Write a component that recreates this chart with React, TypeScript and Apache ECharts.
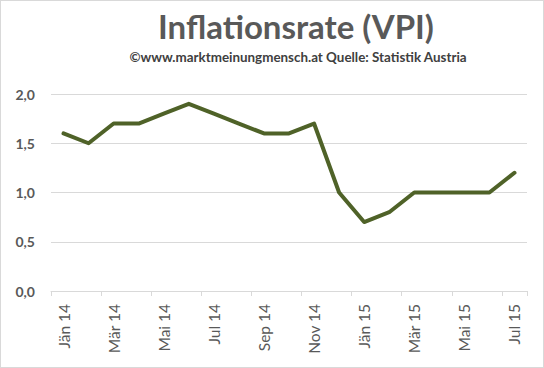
import React, { useEffect, useRef } from "react";
import * as echarts from "echarts";

const months = [
  "Jän 14", "Feb 14", "Mär 14", "Apr 14", "Mai 14", "Jun 14", "Jul 14", "Aug 14", "Sep 14", "Okt 14", "Nov 14", "Dez 14",
  "Jän 15", "Feb 15", "Mär 15", "Apr 15", "Mai 15", "Jun 15", "Jul 15",
];
const inflation = [1.6, 1.5, 1.7, 1.7, 1.8, 1.9, 1.8, 1.7, 1.6, 1.6, 1.7, 1.0, 0.7, 0.8, 1.0, 1.0, 1.0, 1.0, 1.2];
const titleText = "Inflationsrate (VPI)";
const subtitleText = "©www.marktmeinungmensch.at Quelle: Statistik Austria";

export default function App() {
  const ref = useRef<HTMLDivElement>(null);
  useEffect(() => {
    if (!ref.current) return;
    const chart = echarts.init(ref.current, null, { renderer: "svg" });
    chart.setOption({
      animation: false,
      backgroundColor: "#ffffff",
      title: [
        {
          text: titleText,
          left: 290,
          textAlign: "center",
          top: 3,
          textStyle: { fontFamily: "Lato", fontWeight: "bold", fontSize: 33, color: "#595959" },
        },
        {
          text: subtitleText,
          left: 292,
          textAlign: "center",
          top: 44,
          textStyle: { fontFamily: "Lato", fontWeight: "bold", fontSize: 13.4, color: "#404040" },
        },
      ],
      grid: { left: 50, right: 16, top: 93, bottom: 76 },
      xAxis: {
        type: "category",
        data: months,
        boundaryGap: true,
        axisLine: { lineStyle: { color: "#d9d9d9", width: 1 } },
        axisTick: { show: true, interval: 1, length: 5, lineStyle: { color: "#d9d9d9" } },
        axisLabel: {
          interval: 1,
          rotate: 90,
          margin: 13,
          fontFamily: "Lato",
          fontSize: 15.5,
          color: "#595959",
        },
      },
      yAxis: {
        type: "value",
        min: 0,
        max: 2,
        interval: 0.5,
        axisLine: { show: false },
        axisTick: { show: false },
        splitLine: { lineStyle: { color: "#d9d9d9", width: 1 } },
        axisLabel: {
          margin: 16,
          fontFamily: "Lato",
          fontWeight: "bold",
          fontSize: 14,
          color: "#595959",
          formatter: (v: number) => v.toFixed(1).replace(".", ","),
        },
      },
      series: [
        {
          type: "line",
          data: inflation,
          symbol: "none",
          lineStyle: { color: "#4f6228", width: 4, join: "round", cap: "round" },
        },
      ],
    });
    return () => chart.dispose();
  }, []);
  return (
    <div
      style={{
        position: "absolute",
        left: 0,
        top: 0,
        width: 544,
        height: 368,
        boxSizing: "border-box",
        border: "1px solid #d9d9d9",
        background: "#fff",
      }}
    >
      <div ref={ref} style={{ width: 542, height: 366 }} />
    </div>
  );
}
